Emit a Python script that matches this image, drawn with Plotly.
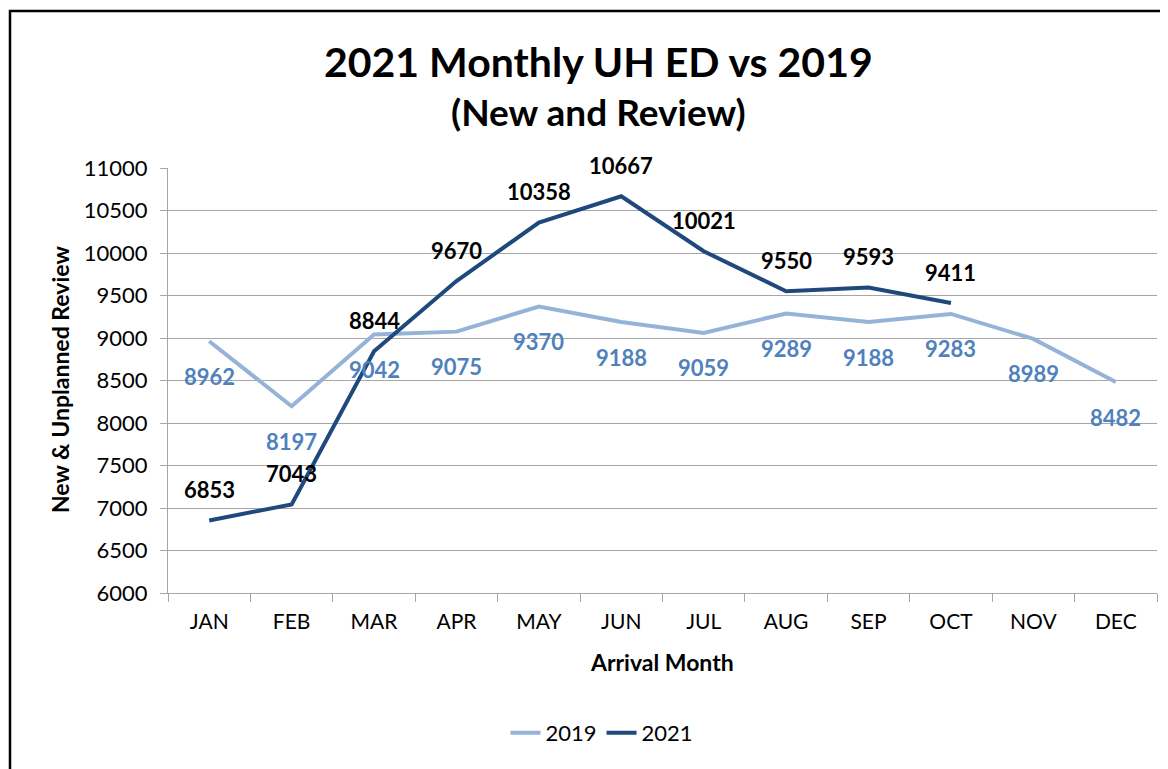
import plotly.graph_objects as go

months = ["JAN", "FEB", "MAR", "APR", "MAY", "JUN", "JUL", "AUG", "SEP", "OCT", "NOV", "DEC"]
values_2019 = [8962, 8197, 9042, 9075, 9370, 9188, 9059, 9289, 9188, 9283, 8989, 8482]
months_2021 = ["JAN", "FEB", "MAR", "APR", "MAY", "JUN", "JUL", "AUG", "SEP", "OCT"]
values_2021 = [6853, 7043, 8844, 9670, 10358, 10667, 10021, 9550, 9593, 9411]
y_ticks = [6000, 6500, 7000, 7500, 8000, 8500, 9000, 9500, 10000, 10500, 11000]
y_ticktext = [str(v) for v in y_ticks]

FONT = "Lato, 'Open Sans', sans-serif"
C2019 = "#95B3D7"
C2021 = "#1F497D"
L2019 = "#4F81BD"

# page offset (body margin) and target plot box in page pixels
OFF = 8
PL, PR, PT, PB = 168, 1157, 168, 593
W, H = 1160, 761
ML, MT = PL - OFF, PT - OFF
MR = OFF + W - PR
MB = OFF + H - PB
pw = PR - PL
ph = PB - PT


def px(x):
    return (x - PL) / pw


def py(y):
    return (PB - y) / ph


fig = go.Figure()
fig.add_trace(go.Scatter(x=months, y=values_2019, mode="lines", name="2019",
                         line=dict(color=C2019, width=4)))
fig.add_trace(go.Scatter(x=months_2021, y=values_2021, mode="lines", name="2021",
                         line=dict(color=C2021, width=4)))

annotations = []
for m, v in zip(months, values_2019):
    annotations.append(dict(x=m, y=v, text=f"<b>{v}</b>", showarrow=False, yshift=-35,
                            font=dict(family=FONT, size=22, color=L2019)))
for m, v in zip(months_2021, values_2021):
    annotations.append(dict(x=m, y=v, text=f"<b>{v}</b>", showarrow=False, yshift=31,
                            font=dict(family=FONT, size=22, color="#000000")))

annotations.append(dict(xref="paper", yref="paper", x=px(598), y=py(62),
                        xanchor="center", yanchor="middle",
                        text="<b>2021 Monthly UH ED vs 2019</b>", showarrow=False,
                        font=dict(family=FONT, size=41, color="#000000")))
annotations.append(dict(xref="paper", yref="paper", x=px(598), y=py(112),
                        xanchor="center", yanchor="middle",
                        text="<b>(New and Review)</b>", showarrow=False,
                        font=dict(family=FONT, size=37, color="#000000")))
annotations.append(dict(xref="paper", yref="paper", x=px(662), y=py(662),
                        xanchor="center", yanchor="middle",
                        text="<b>Arrival Month</b>", showarrow=False,
                        font=dict(family=FONT, size=23, color="#000000")))
annotations.append(dict(xref="paper", yref="paper", x=px(60), y=py(380),
                        xanchor="center", yanchor="middle", textangle=-90,
                        text="<b>New &amp; Unplanned Review</b>", showarrow=False,
                        font=dict(family=FONT, size=23, color="#000000")))

fig.update_layout(
    width=W, height=H,
    margin=dict(l=ML, r=MR, t=MT, b=MB),
    paper_bgcolor="white", plot_bgcolor="white",
    showlegend=True,
    legend=dict(orientation="h", x=px(602), xanchor="center",
                y=py(733), yanchor="middle",
                font=dict(family=FONT, size=22, color="#000000"),
                bgcolor="rgba(0,0,0,0)"),
    annotations=annotations,
    font=dict(family=FONT, color="#000000"),
)

fig.update_xaxes(type="category", categoryorder="array", categoryarray=months,
                 range=[-0.5, 11.5], tickson="boundaries", ticks="outside", ticklen=8,
                 tickcolor="#A6A6A6", showline=True, linecolor="#A6A6A6", linewidth=1,
                 showgrid=False, ticklabelstandoff=10,
                 tickfont=dict(family=FONT, size=21, color="#000000"))
fig.update_yaxes(range=[6000, 11000], tickmode="array", tickvals=y_ticks, ticktext=y_ticktext,
                 ticks="outside", ticklen=7,
                 tickcolor="#A6A6A6", showline=True, linecolor="#A6A6A6", linewidth=1,
                 showgrid=True, gridcolor="#A6A6A6", gridwidth=1, zeroline=False,
                 ticklabelstandoff=8,
                 tickfont=dict(family=FONT, size=22, color="#000000"))

# outer chart frame (black border)
fig.add_shape(type="rect", xref="paper", yref="paper",
              x0=px(10), x1=px(1200),
              y0=py(800), y1=py(11),
              line=dict(color="#000000", width=2.5), layer="above")

fig.write_html("out.html")
